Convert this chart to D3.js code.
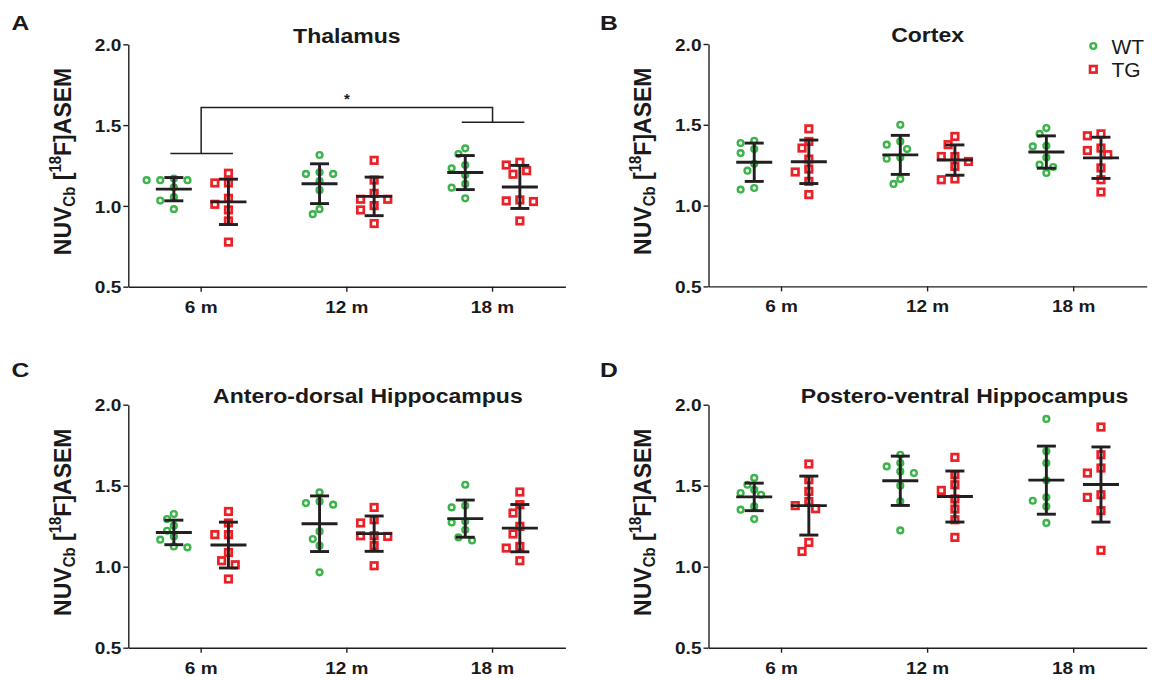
<!DOCTYPE html>
<html>
<head>
<meta charset="utf-8">
<script src="https://cdn.jsdelivr.net/npm/d3@7"></script>
<style>
  html, body { margin: 0; padding: 0; background: #fff; }
  svg { display: block; }
  text { font-family: "Liberation Sans", Arial, Helvetica, sans-serif; fill: #1a1a1a; }
</style>
</head>
<body>
<svg id="chart" width="1152" height="680"></svg>
<script>
// ---- data: NUV_Cb of [18F]ASEM per animal, by region, genotype and age ----
const timepoints = ["6 m", "12 m", "18 m"];
const genotypes = ["WT", "TG"];
const regions = ["Thalamus", "Cortex", "Antero-dorsal Hippocampus", "Postero-ventral Hippocampus"];
const panelLetters = ["A", "B", "C", "D"];
const yTicks = [0.5, 1.0, 1.5, 2.0];

const thalamusWT = [
  [1.159, 1.159, 1.169, 1.159, 1.115, 1.054, 1.033, 0.980],
  [1.315, 1.198, 1.198, 1.208, 1.154, 1.097, 0.980, 0.949],
  [1.356, 1.321, 1.233, 1.253, 1.191, 1.136, 1.113, 1.047]
];
const thalamusTG = [
  [1.202, 1.142, 1.142, 1.047, 1.010, 0.975, 0.907, 0.776],
  [1.282, 1.160, 1.041, 1.041, 1.078, 1.002, 0.975, 0.891],
  [1.270, 1.196, 1.253, 1.218, 1.037, 1.027, 1.031, 0.907]
];
const cortexWT = [
  [1.387, 1.401, 1.350, 1.325, 1.259, 1.216, 1.099, 1.109],
  [1.500, 1.377, 1.397, 1.350, 1.298, 1.290, 1.165, 1.134],
  [1.444, 1.480, 1.366, 1.370, 1.298, 1.253, 1.239, 1.202]
];
const cortexTG = [
  [1.475, 1.397, 1.356, 1.288, 1.208, 1.226, 1.150, 1.068],
  [1.428, 1.377, 1.304, 1.304, 1.273, 1.243, 1.160, 1.165],
  [1.444, 1.432, 1.341, 1.356, 1.315, 1.233, 1.160, 1.084]
];
const adHippWT = [
  [1.294, 1.325, 1.253, 1.222, 1.167, 1.187, 1.119, 1.125],
  [1.459, 1.383, 1.393, 1.403, 1.218, 1.171, 1.130, 0.965],
  [1.506, 1.366, 1.377, 1.280, 1.273, 1.228, 1.162, 1.181]
];
const adHippTG = [
  [1.341, 1.270, 1.198, 1.198, 1.088, 1.037, 1.012, 0.924],
  [1.366, 1.290, 1.191, 1.270, 1.187, 1.191, 1.130, 1.006],
  [1.461, 1.383, 1.331, 1.249, 1.202, 1.125, 1.115, 1.037]
];
const pvHippWT = [
  [1.548, 1.506, 1.475, 1.455, 1.444, 1.372, 1.352, 1.294],
  [1.691, 1.640, 1.619, 1.588, 1.578, 1.500, 1.403, 1.224],
  [1.912, 1.712, 1.640, 1.533, 1.428, 1.407, 1.372, 1.270]
];
const pvHippTG = [
  [1.634, 1.537, 1.465, 1.403, 1.377, 1.358, 1.150, 1.094],
  [1.675, 1.568, 1.506, 1.471, 1.418, 1.356, 1.290, 1.181],
  [1.862, 1.691, 1.609, 1.578, 1.444, 1.428, 1.346, 1.101]
];
const regionValues = [
  { WT: thalamusWT, TG: thalamusTG },
  { WT: cortexWT, TG: cortexTG },
  { WT: adHippWT, TG: adHippTG },
  { WT: pvHippWT, TG: pvHippTG }
];

// significance annotation (Thalamus, 6 m vs 18 m)
const sigRegion = "Thalamus";
const sigFrom = "6 m";
const sigTo = "18 m";
const sigLabel = "*";
const sigLevels = [1.325, 1.517, 1.609]; // left leg, right leg, top

// ---- layout ----
const panelBoxes = [
  { x0: 128.3, x1: 565.4, yTop: 44.3, yBot: 286.7, letterX: 11.5, letterY: 30, titleDx: 0 },
  { x0: 708.5, x1: 1146.7, yTop: 44.0, yBot: 286.4, letterX: 600, letterY: 29.5, titleDx: 0 },
  { x0: 128.3, x1: 565.4, yTop: 404.7, yBot: 647.7, letterX: 11.5, letterY: 377, titleDx: 21 },
  { x0: 708.5, x1: 1146.7, yTop: 404.7, yBot: 647.7, letterX: 600, letterY: 377, titleDx: 37 }
];
const colors = { WT: "#3bb44a", TG: "#ec2027" };
const ink = "#231f20";
const SX = 1.12; // horizontal text stretch
const circleR = 2.9, circleW = 2.4;
const squareS = 6.5, squareW = 2.7;

const svg = d3.select("#chart");
svg.append("rect").attr("width", 1152).attr("height", 680).attr("fill", "#fff");

// simple greedy beeswarm: returns pixel offsets for values in y-pixel space
function swarm(ys, step, minDist) {
  const idx = ys.map((y, i) => i).sort((a, b) => ys[a] - ys[b]);
  const placed = [];
  const out = new Array(ys.length).fill(0);
  idx.forEach(i => {
    const y = ys[i];
    const cands = [0];
    for (let k = 1; k <= 6; k++) { cands.push(-k * step, k * step); }
    for (const c of cands) {
      const ok = placed.every(p => Math.hypot(p.x - c, p.y - y) >= minDist);
      if (ok) { out[i] = c; placed.push({ x: c, y }); break; }
    }
  });
  return out;
}

regions.forEach((region, ri) => {
  const box = panelBoxes[ri];
  const g = svg.append("g");

  const y = d3.scaleLinear().domain([0.5, 2.0]).range([box.yBot, box.yTop]);
  const x = d3.scaleBand().domain(timepoints).range([box.x0, box.x1]).padding(0);
  const xg = d3.scalePoint().domain(genotypes).range([-27.3, 27.3]);
  const xc = t => x(t) + x.bandwidth() / 2;

  // axes
  const yAxis = d3.axisLeft(y).tickValues(yTicks).tickFormat(d3.format(".1f")).tickSize(5).tickSizeOuter(0);
  const ya = g.append("g").attr("transform", `translate(${box.x0},0)`).call(yAxis);
  ya.selectAll("path, line").attr("stroke", ink).attr("stroke-width", 1.4);
  ya.selectAll("text")
    .attr("x", null).attr("dy", "0.36em")
    .attr("transform", `translate(-7,0) scale(${SX},1)`)
    .style("font-size", "17px").style("font-weight", "bold").attr("fill", "#1a1a1a");

  const xAxis = d3.axisBottom(x).tickSize(5).tickSizeOuter(0);
  const xa = g.append("g").attr("transform", `translate(0,${box.yBot})`).call(xAxis);
  xa.selectAll("path, line").attr("stroke", ink).attr("stroke-width", 1.4);
  xa.selectAll("text")
    .attr("y", null).attr("dy", null)
    .attr("transform", `translate(0,26) scale(${SX},1)`)
    .style("font-size", "17px").style("font-weight", "bold").attr("fill", "#1a1a1a");

  // y axis title
  const yMid = (box.yTop + box.yBot) / 2 - 4;
  const yl = g.append("text")
    .attr("transform", `translate(${box.x0 - 57.5},${yMid}) scale(${SX * 0.96},1) rotate(-90)`)
    .attr("text-anchor", "middle")
    .style("font-size", "23px").style("font-weight", "bold");
  yl.append("tspan").text("NUV");
  yl.append("tspan").text("Cb").style("font-size", "15px").attr("dy", 4);
  yl.append("tspan").text(" [").attr("dy", -4);
  yl.append("tspan").text("18").style("font-size", "15px").attr("dy", -9);
  yl.append("tspan").text("F]ASEM").attr("dy", 9);

  // panel title and letter
  g.append("text")
    .attr("transform", `translate(${(box.x0 + box.x1) / 2 + box.titleDx},${box.yTop - 1.6}) scale(${SX * 0.98},1)`)
    .attr("text-anchor", "middle")
    .style("font-size", "21px").style("font-weight", "bold")
    .text(region);
  g.append("text")
    .attr("transform", `translate(${box.letterX},${box.letterY}) scale(${SX * 1.05},1)`)
    .style("font-size", "21px").style("font-weight", "bold")
    .text(panelLetters[ri]);

  // points, then mean ± SD bars on top
  const vals = regionValues[ri];
  genotypes.forEach(gt => {
    timepoints.forEach((tp, ti) => {
      const v = vals[gt][ti];
      const cx = xc(tp) + xg(gt);
      const ys = v.map(d => y(d));
      const offs = gt === "WT" ? swarm(ys, 6.8, 8.2) : swarm(ys, 6.8, 9.4);
      if (gt === "WT") {
        g.selectAll(null).data(v).enter().append("circle")
          .attr("cx", (d, i) => cx + offs[i]).attr("cy", d => y(d))
          .attr("r", circleR).attr("fill", "none")
          .attr("stroke", colors.WT).attr("stroke-width", circleW);
      } else {
        g.selectAll(null).data(v).enter().append("rect")
          .attr("x", (d, i) => cx + offs[i] - squareS / 2).attr("y", d => y(d) - squareS / 2)
          .attr("width", squareS).attr("height", squareS).attr("fill", "none")
          .attr("stroke", colors.TG).attr("stroke-width", squareW);
      }
    });
  });
  genotypes.forEach(gt => {
    timepoints.forEach((tp, ti) => {
      const v = vals[gt][ti];
      const m = d3.mean(v), sd = d3.deviation(v);
      const cx = xc(tp) + xg(gt);
      const bars = g.append("g").attr("stroke", ink).attr("stroke-width", 2.9).attr("fill", "none");
      bars.append("line").attr("x1", cx - 18).attr("x2", cx + 18).attr("y1", y(m)).attr("y2", y(m));
      bars.append("line").attr("x1", cx).attr("x2", cx).attr("y1", y(m - sd)).attr("y2", y(m + sd));
      bars.append("line").attr("x1", cx - 9.5).attr("x2", cx + 9.5).attr("y1", y(m + sd)).attr("y2", y(m + sd));
      bars.append("line").attr("x1", cx - 9.5).attr("x2", cx + 9.5).attr("y1", y(m - sd)).attr("y2", y(m - sd));
    });
  });

  // significance bracket
  if (region === sigRegion) {
    const span = t => [xc(t) + xg("WT") - 3.5, xc(t) + xg("TG") + 4.5];
    const [a0, a1] = span(sigFrom), [b0, b1] = span(sigTo);
    const am = xc(sigFrom), bm = xc(sigTo);
    const br = g.append("g").attr("stroke", ink).attr("stroke-width", 1.5).attr("fill", "none");
    br.append("line").attr("x1", a0).attr("x2", a1).attr("y1", y(sigLevels[0])).attr("y2", y(sigLevels[0]));
    br.append("line").attr("x1", b0).attr("x2", b1).attr("y1", y(sigLevels[1])).attr("y2", y(sigLevels[1]));
    br.append("path").attr("d",
      `M${am},${y(sigLevels[0])}V${y(sigLevels[2])}H${bm}V${y(sigLevels[1])}`);
    g.append("text")
      .attr("x", (am + bm) / 2).attr("y", y(sigLevels[2]) - 3)
      .attr("text-anchor", "middle")
      .style("font-size", "15px").style("font-weight", "bold")
      .text(sigLabel);
  }

  // legend (Cortex panel)
  if (ri === 1) {
    const lg = g.append("g");
    const rows = [{ k: "WT", y: 46 }, { k: "TG", y: 69.3 }];
    rows.forEach(r => {
      if (r.k === "WT") {
        lg.append("circle").attr("cx", 1093.3).attr("cy", r.y).attr("r", circleR)
          .attr("fill", "none").attr("stroke", colors.WT).attr("stroke-width", circleW);
      } else {
        lg.append("rect").attr("x", 1093.3 - squareS / 2).attr("y", r.y - squareS / 2)
          .attr("width", squareS).attr("height", squareS)
          .attr("fill", "none").attr("stroke", colors.TG).attr("stroke-width", squareW);
      }
      lg.append("text")
        .attr("transform", `translate(1111.5,${r.y + 7.5}) scale(1.05,1)`)
        .style("font-size", "20px")
        .text(r.k);
    });
  }
});
</script>
</body>
</html>
